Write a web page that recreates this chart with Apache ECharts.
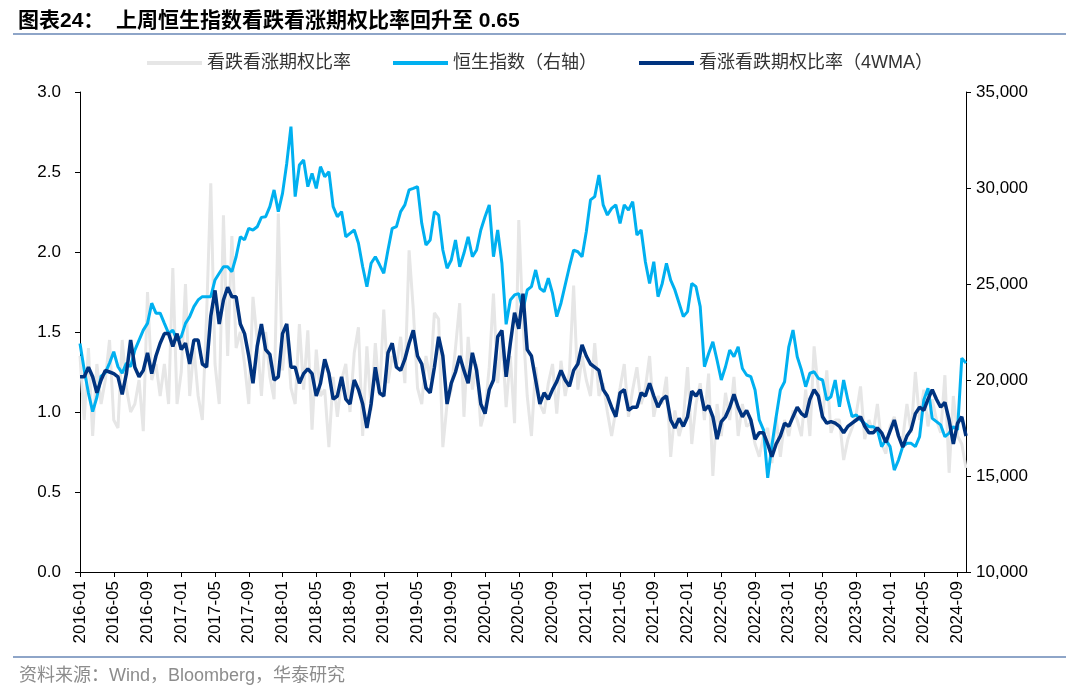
<html>
<head>
    <meta charset='utf-8'/>
    <title>恒生指数看跌看涨期权比率</title>
    <style>
        body {
            margin: 0;
            padding: 0;
        }

        #chart {
            width: 1080px;
            height: 692px;
        }
    </style>
</head>
<body>
<div id='chart'></div>
<script type="text/javascript" src="https://cdn.jsdelivr.net/npm/echarts@6/dist/echarts.min.js"></script>
<script type="text/javascript">
    // 半月频率，2016-01 至 2024-10
    var categories = [];
    for (var m = 0; m <= 105; m++) {
        var y = 2016 + Math.floor(m / 12), mm = m % 12 + 1;
        var ym = y + '-' + (mm < 10 ? '0' + mm : mm);
        categories.push(ym + '-01');
        if (m < 105) categories.push(ym + '-16');
    }

    // 看跌看涨期权比率
    var putCall = [
        1.35, 0.95, 1.40, 0.85, 1.30, 1.05, 1.20, 1.45, 0.95, 0.90,
        1.45, 1.15, 1.00, 1.05, 1.20, 0.88, 1.75, 1.20, 1.30, 1.10,
        1.30, 1.05, 1.90, 1.05, 1.25, 1.80, 1.10, 1.40, 1.10, 0.95,
        1.60, 2.43, 1.30, 1.05, 2.23, 1.35, 2.10, 1.40, 1.50, 1.30,
        1.05, 1.72, 1.45, 1.10, 1.50, 1.22, 1.08, 2.24, 1.26, 1.53,
        1.15, 1.05, 1.55, 1.14, 1.51, 0.89, 1.39, 1.10, 1.14, 0.78,
        1.22, 0.97, 1.20, 1.30, 1.00, 1.37, 1.53, 0.85, 1.41, 1.01,
        1.43, 1.10, 1.64, 1.18, 1.35, 1.28, 1.47, 1.18, 2.01, 1.64,
        1.15, 1.05, 1.35, 1.20, 1.62, 1.58, 0.78, 1.05, 1.14, 1.40,
        1.68, 0.97, 1.47, 1.14, 1.30, 0.91, 1.01, 1.28, 1.74, 1.18,
        1.47, 1.03, 1.35, 0.93, 2.20, 1.55, 1.10, 0.85, 1.28, 1.05,
        0.99, 1.18, 1.30, 0.99, 1.32, 1.10, 1.25, 1.79, 1.14, 1.35,
        1.20, 1.10, 1.43, 1.10, 1.18, 1.00, 0.85, 1.01, 1.15, 1.30,
        0.97, 1.14, 1.28, 1.05, 1.15, 1.35, 0.97, 1.10, 1.05, 1.22,
        0.72, 1.01, 0.85, 0.95, 1.28, 0.80, 1.05, 1.18, 0.95, 1.24,
        0.60, 1.05, 0.85, 1.12, 0.95, 1.22, 0.85, 1.05, 0.91, 0.93,
        0.80, 0.72, 0.85, 0.90, 0.68, 0.97, 0.72, 0.95, 0.85, 1.01,
        0.95, 0.85, 1.14, 0.85, 1.41, 1.14, 0.95, 1.26, 0.87, 0.95,
        0.95, 0.70, 0.83, 0.90, 0.99, 1.16, 0.83, 0.95, 0.87, 1.05,
        0.80, 0.74, 0.91, 0.97, 0.85, 0.83, 1.05, 0.87, 1.25, 0.95,
        1.14, 0.91, 1.08, 0.95, 0.87, 1.23, 0.62, 1.10, 0.85, 0.80, 0.65
    ];

    // 恒生指数（右轴）
    var hsi = [
        21900, 20520, 19320, 18350, 19100, 20200, 20370, 20880, 21470, 20690,
        20360, 20880, 20700, 21560, 22080, 22600, 22950, 24000, 23480, 23480,
        22950, 22430, 22600, 22080, 22260, 22950, 23300, 23820, 24170, 24340,
        24340, 24340, 25210, 25560, 25900, 25900, 25640, 26420, 27460, 27300,
        27900, 27810, 27980, 28470, 28500, 29030, 29900, 28770, 29720, 31280,
        33200, 29550, 31200, 31460, 30070, 30760, 29980, 31110, 30590, 30850,
        29030, 28500, 28770, 27460, 27640, 27810, 27120, 25900, 24860, 26080,
        26420, 26000, 25560, 26770, 27900, 27990, 28770, 29120, 29900, 29980,
        30070, 28160, 27030, 27290, 28770, 28590, 26770, 25820, 26250, 27290,
        25900, 26600, 27460, 26420, 26770, 27810, 28500, 29120, 26420, 27810,
        26080, 22900, 24170, 24430, 24500, 23650, 24690, 24860, 25730, 24780,
        24600, 25300, 24510, 23300, 24000, 24950, 25900, 26770, 26680, 26420,
        27720, 29380, 29550, 30680, 29120, 28590, 28940, 29120, 28160, 29120,
        28850, 29290, 27550, 27810, 26160, 25030, 26160, 24340, 25030, 26080,
        25200, 24690, 24000, 23300, 23560, 25030, 24860, 23820, 20690, 21380,
        21990, 21030, 20000, 20690, 21560, 21210, 21730, 20600, 20260, 20170,
        19480, 17920, 17400, 14900, 16600, 18090, 19480, 19910, 21730, 22600,
        21210, 20520, 19650, 20350, 20430, 20090, 20000, 18960, 19130, 20000,
        18610, 20000, 18960, 18090, 18180, 17920, 17740, 17570, 17570, 17400,
        16530, 16880, 16530, 15310, 15830, 16530, 16700, 16700, 16530, 17050,
        18960, 19570, 18000, 17830, 17660, 17050, 17230, 17570, 17400, 21140, 20880
    ];

    // 看涨看跌期权比率（4WMA）
    var putCall4w = [
        1.22, 1.22, 1.28, 1.22, 1.12, 1.20, 1.26, 1.25, 1.24, 1.22,
        1.11, 1.24, 1.45, 1.28, 1.22, 1.26, 1.37, 1.24, 1.35, 1.43,
        1.49, 1.49, 1.41, 1.49, 1.39, 1.43, 1.30, 1.45, 1.45, 1.30,
        1.28, 1.60, 1.76, 1.55, 1.70, 1.78, 1.72, 1.72, 1.55, 1.49,
        1.35, 1.18, 1.41, 1.55, 1.39, 1.36, 1.20, 1.22, 1.49, 1.55,
        1.28, 1.28, 1.18, 1.24, 1.27, 1.24, 1.10, 1.18, 1.33, 1.24,
        1.08, 1.10, 1.22, 1.08, 1.05, 1.20, 1.14, 1.05, 0.90, 1.05,
        1.28, 1.12, 1.10, 1.37, 1.43, 1.28, 1.26, 1.33, 1.43, 1.51,
        1.35, 1.30, 1.15, 1.12, 1.28, 1.47, 1.35, 1.05, 1.18, 1.25,
        1.35, 1.26, 1.18, 1.37, 1.26, 1.05, 0.99, 1.14, 1.20, 1.47,
        1.51, 1.22, 1.43, 1.62, 1.52, 1.74, 1.39, 1.35, 1.20, 1.05,
        1.12, 1.08, 1.14, 1.19, 1.26, 1.20, 1.16, 1.26, 1.30, 1.42,
        1.35, 1.30, 1.28, 1.26, 1.14, 1.10, 1.03, 0.97, 1.12, 1.14,
        1.01, 1.03, 1.03, 1.12, 1.10, 1.18, 1.10, 1.03, 1.08, 1.10,
        0.95, 0.90, 0.96, 0.91, 0.97, 1.13, 1.10, 1.14, 1.01, 1.04,
        0.97, 0.83, 0.94, 0.97, 1.03, 1.11, 1.03, 0.97, 1.01, 0.95,
        0.83, 0.87, 0.87, 0.80, 0.72, 0.80, 0.85, 0.93, 0.91, 0.97,
        1.03, 0.99, 0.97, 1.08, 1.14, 1.10, 0.97, 0.93, 0.94, 0.93,
        0.91, 0.87, 0.91, 0.93, 0.95, 0.97, 0.91, 0.87, 0.87, 0.90,
        0.87, 0.81, 0.88, 0.95, 0.85, 0.78, 0.85, 0.89, 0.99, 1.03,
        1.01, 1.08, 1.14, 1.08, 1.03, 1.06, 0.95, 0.80, 0.93, 0.97, 0.85
    ];

    var font = 'Liberation Sans, Arial, Noto Sans CJK SC, sans-serif';
    var chart = echarts.init(document.getElementById('chart'));

    var option = {
        animation: false,
        color: ['#E6E6E6', '#00B0F0', '#00337F'],
        title: [{
            text: '图表24：  上周恒生指数看跌看涨期权比率回升至 0.65',
            left: 13,
            top: 6,
            textStyle: {fontSize: 21, fontWeight: 'bold', color: '#000', fontFamily: font}
        }, {
            text: '资料来源：Wind，Bloomberg，华泰研究',
            left: 14,
            top: 662,
            textStyle: {fontSize: 18, fontWeight: 'normal', color: '#8c8c8c', fontFamily: font}
        }],
        graphic: [
            {type: 'line', shape: {x1: 13, y1: 34, x2: 1066, y2: 34}, style: {stroke: '#8EA5C8', lineWidth: 2}},
            {type: 'line', shape: {x1: 13, y1: 657, x2: 1066, y2: 657}, style: {stroke: '#8EA5C8', lineWidth: 2}}
        ],
        legend: {
            top: 49,
            left: 'center',
            icon: 'rect',
            itemWidth: 55,
            itemHeight: 4,
            itemGap: 42,
            textStyle: {fontSize: 18, color: '#333', fontFamily: font},
            data: ['看跌看涨期权比率', '恒生指数（右轴）', '看涨看跌期权比率（4WMA）']
        },
        grid: {left: 80, right: 114, top: 92, bottom: 120, containLabel: false},
        xAxis: {
            type: 'category',
            boundaryGap: false,
            data: categories,
            axisLine: {lineStyle: {color: '#000', width: 1}},
            axisTick: {interval: 7, length: 5, lineStyle: {color: '#000'}},
            axisLabel: {
                interval: 7,
                rotate: 90,
                margin: 9,
                fontSize: 17,
                color: '#000',
                fontFamily: font,
                formatter: function (v) { return v.slice(0, 7); }
            },
            splitLine: {show: false}
        },
        yAxis: [{
            type: 'value',
            min: 0,
            max: 3,
            interval: 0.5,
            axisLine: {show: true, lineStyle: {color: '#000', width: 1}},
            axisTick: {show: true, length: 5, lineStyle: {color: '#000'}},
            axisLabel: {
                fontSize: 17, color: '#000', fontFamily: font, margin: 19,
                formatter: function (v) { return v.toFixed(1); }
            },
            splitLine: {show: false}
        }, {
            type: 'value',
            min: 10000,
            max: 35000,
            interval: 5000,
            position: 'right',
            axisLine: {show: true, lineStyle: {color: '#000', width: 1}},
            axisTick: {show: true, length: 5, lineStyle: {color: '#000'}},
            axisLabel: {
                fontSize: 17, color: '#000', fontFamily: font, margin: 10,
                formatter: function (v) { return v.toLocaleString('en-US'); }
            },
            splitLine: {show: false}
        }],
        series: [{
            name: '看跌看涨期权比率',
            type: 'line',
            yAxisIndex: 0,
            data: putCall,
            symbol: 'none',
            lineStyle: {width: 3, color: '#E6E6E6'}
        }, {
            name: '恒生指数（右轴）',
            type: 'line',
            yAxisIndex: 1,
            data: hsi,
            symbol: 'none',
            lineStyle: {width: 3, color: '#00B0F0'}
        }, {
            name: '看涨看跌期权比率（4WMA）',
            type: 'line',
            yAxisIndex: 0,
            data: putCall4w,
            symbol: 'none',
            lineStyle: {width: 3.5, color: '#00337F'}
        }]
    };

    chart.setOption(option);
</script>
</body>
</html>
